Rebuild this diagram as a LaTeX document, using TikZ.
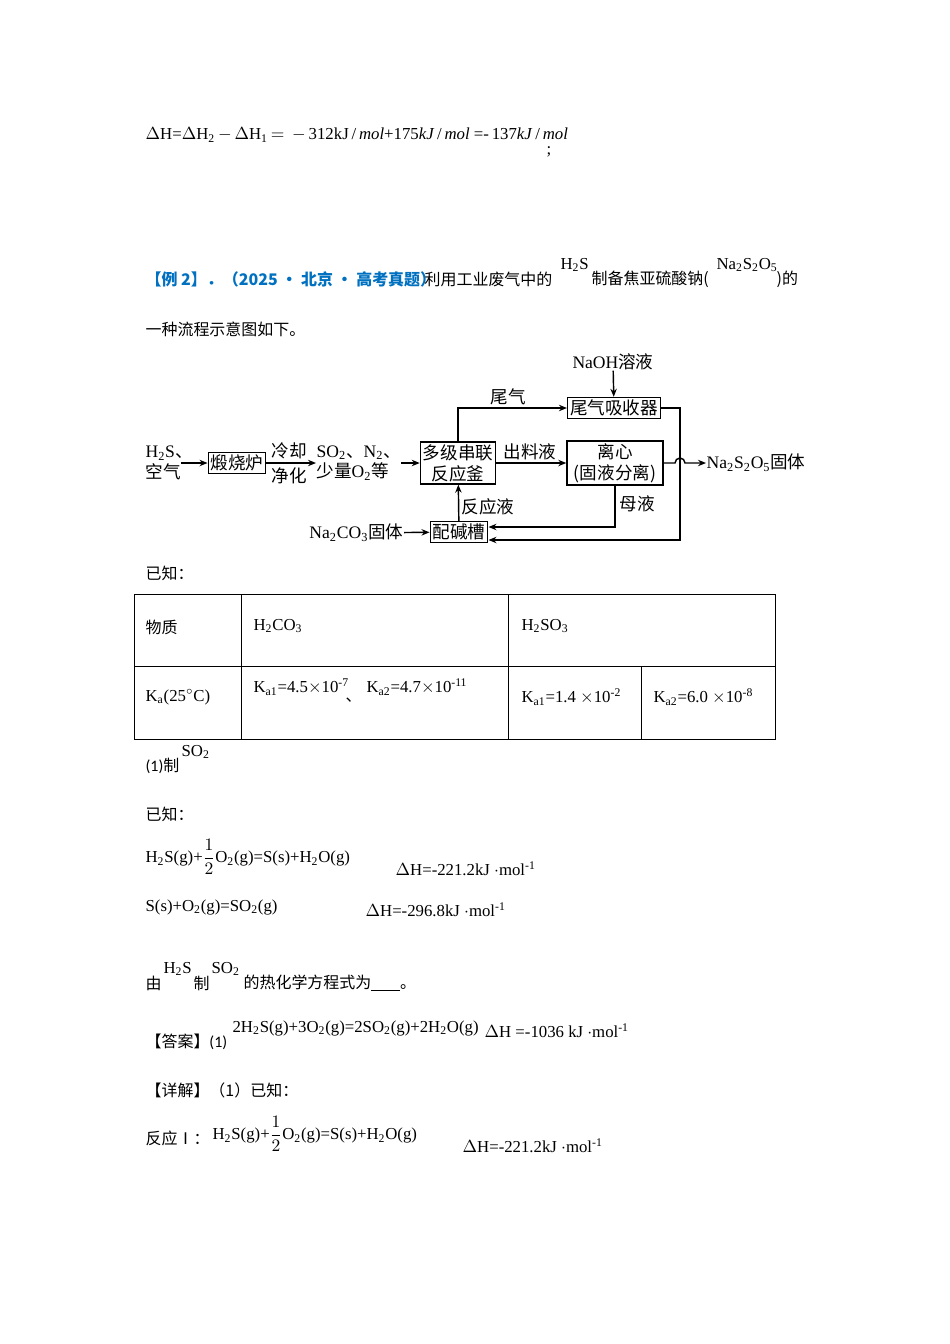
\documentclass[tikz,border=0pt]{standalone}
\usepackage{fontspec}
\setmainfont{Noto Sans CJK SC}
\newfontfamily\tms{Liberation Serif}
\newfontfamily\calfnt{Carlito}
\usetikzlibrary{arrows.meta,positioning}
\definecolor{exblue}{RGB}{0,112,192}
\newcommand{\sbs}[1]{\textsubscript{#1}}
\newcommand{\sps}[1]{\textsuperscript{#1}}
\newcommand{\half}{$\displaystyle\frac{1}{2}$}
\tikzset{every picture/.style={line width=0.75pt},
  txt/.style={anchor=west,inner sep=0pt,font=\fontsize{10}{12}\selectfont},
  frm/.style={anchor=west,inner sep=0pt,font=\tms\fontsize{10.5}{12}\selectfont},
  box/.style={draw,line width=0.9pt,inner sep=1.5pt,font=\fontsize{11}{13}\selectfont},
  lbl/.style={inner sep=0pt,font=\fontsize{11}{13}\selectfont},
  flw/.style={line width=0.9pt,-{Stealth[length=5pt,width=4pt]}},
  cell/.style={line width=0.6pt}}
\begin{document}
\begin{tikzpicture}[x=0.626pt,y=-0.626pt]
                \useasboundingbox (0,0) rectangle (950,1344);
                % top line
                \node[frm] (dh) at (145,135){$\Delta$H=$\Delta$H\sbs{2}$\,-\,\Delta$H\sbs{1}$\,=\,-\,$312kJ\,/\,\textit{mol}+175\textit{kJ}\,/\,\textit{mol} =-\,137\textit{kJ}\,/\,\textit{mol}};
                \node[frm] (semi) at (546,152){;};
                % question
                \node[txt,font=\bfseries\fontsize{10}{12}\selectfont,text=exblue] (ex) at (145,279){【例 2】．（2025 · 北京 · 高考真题）};
                \node[txt] (q1) at (424,279){利用工业废气中的};
                \node[frm] (q2) at (560,265){H\sbs{2}S};
                \node[txt] (q3) at (591,279){制备焦亚硫酸钠(};
                \node[frm] (q4) at (716,265){Na\sbs{2}S\sbs{2}O\sbs{5}};
                \node[txt] (q5) at (776,279){)的};
                \node[txt] (q6) at (145,329){一种流程示意图如下。};
                % flowchart
                \node[lbl,align=left,anchor=west] (feed) at (145,463){{\tms H\sbs{2}S}\rlap{、}\\空气};
                \node[box] (furn) at (237,463){煅烧炉};
                \node[lbl] (cool) at (289,451){冷却};
                \node[lbl] (pure) at (289,476){净化};
                \node[lbl,align=left,anchor=west] (gas) at (316,463){{\tms SO\sbs{2}}、{\tms N\sbs{2}}、\\少量{\tms O\sbs{2}}等};
                \node[box,align=center] (reac) at (458,463){多级串联\\反应釜};
                \node[box] (tail) at (614,408){尾气吸收器};
                \node[lbl] (naoh) at (613,362){{\tms NaOH}溶液};
                \node[box,align=center,minimum width=96*0.626pt] (cent) at (615,463){离心\\(固液分离)};
                \node[lbl,anchor=west] (prod) at (706,463){{\tms Na\sbs{2}S\sbs{2}O\sbs{5}}固体};
                \node[box] (tank) at (459,532){配碱槽};
                \node[lbl,anchor=east] (soda) at (404,533){{\tms Na\sbs{2}CO\sbs{3}}固体};
                \node[lbl] at (508,397){尾气};
                \node[lbl] at (530,452){出料液};
                \node[lbl] at (488,507){反应液};
                \node[lbl] at (637,504){母液};
                \coordinate (hop) at (680,463);
                \coordinate (lowA) at (680,540);
                \coordinate (lowB) at (615,527);
                \draw[flw] (feed.east|-furn) -- (furn);
                \draw[flw] (furn) -- (gas.west|-furn);
                \draw[flw] (gas.east|-reac) -- (reac);
                \draw[flw] (reac.north) |- (tail.west);
                \draw[flw] (naoh) -- (tail);
                \draw[flw] (reac) -- (cent);
                \draw[flw] (cent.east) -- ([xshift=-5*0.626pt]hop) arc (180:0:5*0.626pt) -- (prod.west);
                \draw[flw] (tail.east) -| (lowA) -- (tank.east|-lowA);
                \draw[flw] (cent.south) -- (lowB) -- (tank.east|-lowB);
                \draw[flw] (tank) -- (reac);
                \draw[flw] (soda) -- (tank);
                % known
                \node[txt] (kn1) at (145,573){已知：};
                \draw[cell] (134,594) rectangle (775,739);
                \draw[cell] (134,666) -- (775,666);
                \draw[cell] (241,594) -- (241,739);
                \draw[cell] (508,594) -- (508,739);
                \draw[cell] (641,666) -- (641,739);
                \node[txt] (t11) at (145,627){物质};
                \node[frm] (t12) at (253,626){H\sbs{2}CO\sbs{3}};
                \node[frm] (t13) at (521,626){H\sbs{2}SO\sbs{3}};
                \node[frm] (t21) at (145,697){K\sbs{a}(25\sps{$\circ$}C)};
                \node[frm] (t22) at (253,687){K\sbs{a1}=4.5$\times$10\sps{-7}};
                \node[txt] (t22b) at (345,700){、};
                \node[frm] (t23) at (366,687){K\sbs{a2}=4.7$\times$10\sps{-11}};
                \node[frm] (t24) at (521,697){K\sbs{a1}=1.4 $\times$10\sps{-2}};
                \node[frm] (t25) at (653,697){K\sbs{a2}=6.0 $\times$10\sps{-8}};
                % part 1
                \node[txt] (p1) at (145,766){{\calfnt(1)}制};
                \node[frm] (p1b) at (181,752){SO\sbs{2}};
                \node[txt] (kn2) at (145,814){已知：};
                \node[frm] (e1) at (145,857){H\sbs{2}S(g)+\half O\sbs{2}(g)=S(s)+H\sbs{2}O(g)};
                \node[frm] (e1h) at (395,869){$\Delta$H=-221.2kJ $\cdot$mol\sps{-1}};
                \node[frm] (e2) at (145,907){S(s)+O\sbs{2}(g)=SO\sbs{2}(g)};
                \node[frm] (e2h) at (365,910){$\Delta$H=-296.8kJ $\cdot$mol\sps{-1}};
                \node[txt] (y1) at (145,983){由};
                \node[frm] (y2) at (163,969){H\sbs{2}S};
                \node[txt] (y3) at (193,983){制};
                \node[frm] (y4) at (211,969){SO\sbs{2}};
                \node[txt] (y5) at (243,983){的热化学方程式为\underline{\hspace{18pt}}。};
                \node[txt] (an1) at (145,1042){【答案】{\calfnt(1)}};
                \node[frm] (an2) at (232,1028){2H\sbs{2}S(g)+3O\sbs{2}(g)=2SO\sbs{2}(g)+2H\sbs{2}O(g)};
                \node[frm] (an3) at (484,1031){$\Delta$H =-1036 kJ $\cdot$mol\sps{-1}};
                \node[txt] (de1) at (145,1090){【详解】（1）已知：};
                \node[txt] (de2) at (145,1138){反应Ⅰ：};
                \node[frm] (de3) at (212,1134){H\sbs{2}S(g)+\half O\sbs{2}(g)=S(s)+H\sbs{2}O(g)};
                \node[frm] (de4) at (462,1146){$\Delta$H=-221.2kJ $\cdot$mol\sps{-1}};
            \end{tikzpicture}
\end{document}
